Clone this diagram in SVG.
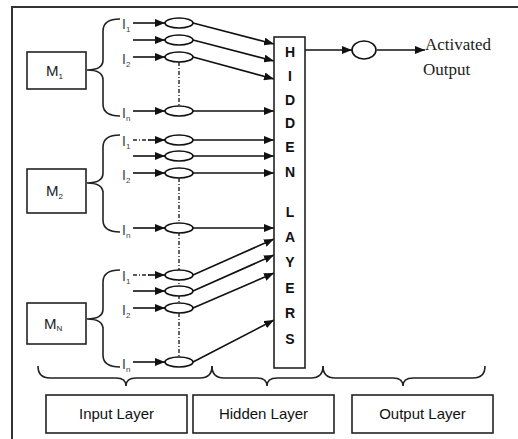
<svg xmlns="http://www.w3.org/2000/svg" width="518" height="439" viewBox="0 0 518 439">
<defs>
<marker id="ah" markerWidth="11" markerHeight="8" refX="10" refY="4" orient="auto" markerUnits="userSpaceOnUse">
<path d="M0,0 L10,4 L0,8 Z" fill="#111"/>
</marker>
<style>
.ln{stroke:#111;stroke-width:1.6;fill:none}
.ar{stroke:#111;stroke-width:1.6;fill:none;marker-end:url(#ah)}
.dash{stroke:#222;stroke-width:1.4;fill:none;stroke-dasharray:4 2 1 2}
.box{fill:#fff;stroke:#222;stroke-width:1.6}
.ov{fill:#fff;stroke:#111;stroke-width:1.6}
.br{stroke:#222;stroke-width:1.6;fill:none}
.lab{font-family:"Liberation Sans",Arial,sans-serif;font-size:14px;fill:#444}
.sub{font-size:8px}
.m{font-family:"Liberation Sans",Arial,sans-serif;font-size:15px;fill:#222}
.hl{font-family:"Liberation Sans",Arial,sans-serif;font-size:14px;font-weight:bold;fill:#111;text-anchor:middle}
.lay{font-family:"Liberation Sans",Arial,sans-serif;font-size:15px;fill:#111;text-anchor:middle}
.out{font-family:"Liberation Serif","Times New Roman",serif;font-size:17px;fill:#222}
</style>
</defs>
<path d="M12,439 V7 H518" fill="none" stroke="#333" stroke-width="2"/>

<g id="connectors">
<path class="br" d="M120,19 Q103,19 103,31 V60 Q103,70 87,70 Q103,70 103,80 V104 Q103,116 120,116"/>
<path class="br" d="M120,135 Q103,135 103,147 V173 Q103,183 87,183 Q103,183 103,193 V220 Q103,232 120,232"/>
<path class="br" d="M120,270 Q103,270 103,282 V309 Q103,319 87,319 Q103,319 103,329 V355 Q103,367 120,367"/>
<path class="br" d="M38,366 Q38,378 50,378 H116 Q126,378 126,386 Q126,378 136,378 H200 Q212,378 212,366"/>
<path class="br" d="M212,366 Q212,378 224,378 H257 Q267,378 267,386 Q267,378 277,378 H311 Q323,378 323,366"/>
<path class="br" d="M323,366 Q323,378 335,378 H393 Q403,378 403,386 Q403,378 413,378 H473 Q485,378 485,366"/>
<line class="ar" x1="133" y1="23" x2="165" y2="23"/>
<line class="ar" x1="133" y1="40" x2="165" y2="40"/>
<line class="ar" x1="133" y1="57" x2="165" y2="57"/>
<line class="ar" x1="133" y1="111" x2="165" y2="111"/>
<line class="dash" x1="133" y1="140" x2="150" y2="140"/>
<line class="ar" x1="148" y1="140" x2="165" y2="140"/>
<line class="ar" x1="133" y1="156" x2="165" y2="156"/>
<line class="ar" x1="133" y1="173" x2="165" y2="173"/>
<line class="ar" x1="133" y1="228" x2="165" y2="228"/>
<line class="dash" x1="133" y1="275" x2="150" y2="275"/>
<line class="ar" x1="148" y1="275" x2="165" y2="275"/>
<line class="ar" x1="133" y1="291" x2="165" y2="291"/>
<line class="ar" x1="133" y1="308" x2="165" y2="308"/>
<line class="ar" x1="133" y1="362" x2="165" y2="362"/>
<line class="dash" x1="179" y1="62" x2="179" y2="106"/>
<line class="dash" x1="179" y1="178" x2="179" y2="357"/>
<line class="ar" x1="193" y1="23" x2="274" y2="44"/>
<line class="ar" x1="193" y1="40" x2="274" y2="61"/>
<line class="ar" x1="193" y1="57" x2="274" y2="79"/>
<line class="ar" x1="193" y1="111" x2="274" y2="111"/>
<line class="ar" x1="193" y1="140" x2="274" y2="140"/>
<line class="ar" x1="193" y1="156" x2="274" y2="156"/>
<line class="ar" x1="193" y1="173" x2="274" y2="173"/>
<line class="ar" x1="193" y1="228" x2="274" y2="228"/>
<line class="ar" x1="193" y1="275" x2="274" y2="239"/>
<line class="ar" x1="193" y1="291" x2="274" y2="255"/>
<line class="ar" x1="193" y1="308" x2="274" y2="273"/>
<line class="ar" x1="193" y1="362" x2="274" y2="320"/>
<line class="ar" x1="305" y1="50" x2="352" y2="50"/>
<line class="ar" x1="377" y1="50" x2="425" y2="50"/>
</g>

<g id="M1"><rect class="box" x="27" y="52" width="59" height="37"/><text class="m" x="46" y="76">M<tspan class="sub" dy="3">1</tspan></text></g>
<g id="M2"><rect class="box" x="27" y="169" width="59" height="44"/><text class="m" x="46" y="196">M<tspan class="sub" dy="3">2</tspan></text></g>
<g id="MN"><rect class="box" x="27" y="303" width="59" height="41"/><text class="m" x="44" y="329">M<tspan class="sub" dy="2">N</tspan></text></g>

<g id="inputs-M1">
<text class="lab" x="122" y="29">I<tspan class="sub" dy="3">1</tspan></text>
<text class="lab" x="122" y="64">I<tspan class="sub" dy="3">2</tspan></text>
<text class="lab" x="122" y="118">I<tspan class="sub" dy="3">n</tspan></text>
<ellipse class="ov" cx="179" cy="23" rx="14" ry="5"/>
<ellipse class="ov" cx="179" cy="40" rx="14" ry="5"/>
<ellipse class="ov" cx="179" cy="57" rx="14" ry="5"/>
<ellipse class="ov" cx="179" cy="111" rx="14" ry="5"/>
</g>
<g id="inputs-M2">
<text class="lab" x="122" y="146">I<tspan class="sub" dy="3">1</tspan></text>
<text class="lab" x="122" y="180">I<tspan class="sub" dy="3">2</tspan></text>
<text class="lab" x="122" y="235">I<tspan class="sub" dy="3">n</tspan></text>
<ellipse class="ov" cx="179" cy="140" rx="14" ry="5"/>
<ellipse class="ov" cx="179" cy="156" rx="14" ry="5"/>
<ellipse class="ov" cx="179" cy="173" rx="14" ry="5"/>
<ellipse class="ov" cx="179" cy="228" rx="14" ry="5"/>
</g>
<g id="inputs-MN">
<text class="lab" x="122" y="281">I<tspan class="sub" dy="3">1</tspan></text>
<text class="lab" x="122" y="315">I<tspan class="sub" dy="3">2</tspan></text>
<text class="lab" x="122" y="369">I<tspan class="sub" dy="3">n</tspan></text>
<ellipse class="ov" cx="179" cy="275" rx="14" ry="5"/>
<ellipse class="ov" cx="179" cy="291" rx="14" ry="5"/>
<ellipse class="ov" cx="179" cy="308" rx="14" ry="5"/>
<ellipse class="ov" cx="179" cy="362" rx="14" ry="5"/>
</g>

<g id="hidden">
<rect class="box" x="274" y="37" width="31" height="331"/>
<text class="hl" x="290" y="57">H</text>
<text class="hl" x="290" y="81">I</text>
<text class="hl" x="290" y="105">D</text>
<text class="hl" x="290" y="128">D</text>
<text class="hl" x="290" y="152">E</text>
<text class="hl" x="290" y="177">N</text>
<text class="hl" x="290" y="217">L</text>
<text class="hl" x="290" y="242">A</text>
<text class="hl" x="290" y="267">Y</text>
<text class="hl" x="290" y="293">E</text>
<text class="hl" x="290" y="318">R</text>
<text class="hl" x="290" y="344">S</text>
</g>

<g id="output-node"><ellipse class="ov" cx="364" cy="50" rx="12" ry="9"/></g>
<g id="output-label">
<text class="out" x="425" y="50">Activated</text>
<text class="out" x="423" y="75">Output</text>
</g>

<g id="input-layer"><rect class="box" x="46" y="395" width="141" height="38"/><text class="lay" x="116.5" y="419">Input Layer</text></g>
<g id="hidden-layer"><rect class="box" x="193" y="395" width="141" height="38"/><text class="lay" x="263.5" y="419">Hidden Layer</text></g>
<g id="output-layer"><rect class="box" x="352" y="395" width="141" height="38"/><text class="lay" x="422.5" y="419">Output Layer</text></g>
</svg>
